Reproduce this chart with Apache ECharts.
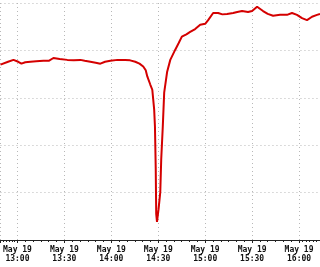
<!DOCTYPE html>
<html><head><meta charset="utf-8">
<script src="https://cdn.jsdelivr.net/npm/echarts@6/dist/echarts.min.js"></script>
<style>html,body{margin:0;padding:0;background:#fff}#c{width:320px;height:267px}</style>
</head><body><div id="c"></div>
<script>
// minutes relative to May 19 13:00
const minutes = [-10.85,-6.0,-2.55,0.5,2.55,5.0,8.3,12.0,16.6,20.0,23.0,27.0,31.9,36.0,40.2,43.0,46.6,50.0,53.0,56.0,59.4,64.0,68.9,72.0,75.3,78.0,80.4,82.0,83.0,84.9,86.2,87.4,87.9,88.4,88.7,89.2,90.2,91.3,91.9,92.9,93.8,95.7,97.7,100.8,103.0,105.1,108.0,110.4,113.6,116.8,120.0,121.9,125.1,128.3,131.0,134.0,137.9,140.5,143.6,147.4,150.0,153.2,157.0,160.0,163.4,167.9,172.3,175.5,178.7,181.9,185.1,188.3,191.5,193.4];
const values = [3.70,3.76,3.80,3.76,3.72,3.75,3.76,3.77,3.78,3.78,3.84,3.82,3.80,3.79,3.80,3.78,3.76,3.74,3.72,3.76,3.78,3.80,3.80,3.79,3.76,3.72,3.66,3.58,3.45,3.28,3.17,2.75,2.39,1.49,0.55,0.38,0.65,1.01,1.70,2.39,3.11,3.55,3.80,4.01,4.15,4.29,4.34,4.39,4.45,4.54,4.56,4.64,4.79,4.79,4.76,4.77,4.79,4.81,4.83,4.81,4.83,4.92,4.83,4.77,4.73,4.75,4.75,4.79,4.75,4.68,4.64,4.71,4.75,4.77];
const base = Date.UTC(2024,4,19,13,0,0);
const MIN = 60000;
const data = minutes.map((m,i)=>[base + m*MIN, values[i]]);
const chart = echarts.init(document.getElementById('c'));
const dotted = {show:true, lineStyle:{color:'#b8b8b8', type:[1,3], width:1}};
chart.setOption({
  useUTC: true,
  animation: false,
  grid: {left:0, right:0, top:3, bottom:27, containLabel:false},
  xAxis: {
    type:'time',
    min: base + minutes[0]*MIN,
    max: base + minutes[minutes.length-1]*MIN,
    splitNumber: 6,
    axisLine:{show:true, lineStyle:{color:'#222', width:1}},
    axisTick:{show:true, length:3, lineStyle:{color:'#222'}},
    minorTick:{show:true, splitNumber:6, length:2, lineStyle:{color:'#222'}},
    splitLine: dotted,
    axisLabel:{
      margin:5, color:'#111', fontFamily:'DejaVu Sans Mono', fontWeight:'bold', fontSize:8, lineHeight:9,
      hideOverlap:false,
      formatter: function(v){
        const d = new Date(v);
        const hh = String(d.getUTCHours()).padStart(2,'0');
        const mm = String(d.getUTCMinutes()).padStart(2,'0');
        return 'May 19\n' + hh + ':' + mm;
      }
    }
  },
  yAxis: {
    type:'value', min:0, max:5, interval:1,
    axisLine:{show:false}, axisTick:{show:false}, axisLabel:{show:false},
    splitLine: dotted
  },
  series: [{
    type:'line', data:data, showSymbol:false, smooth:false,
    lineStyle:{color:'#d40000', width:2}
  }]
});
</script></body></html>
